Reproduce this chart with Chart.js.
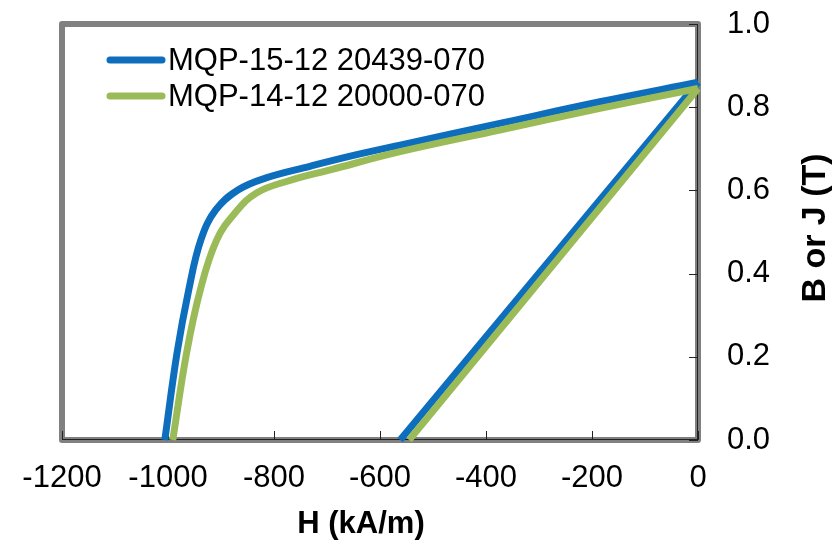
<!DOCTYPE html>
<html>
<head>
<meta charset="utf-8">
<script src="https://cdn.jsdelivr.net/npm/chart.js@4/dist/chart.umd.min.js"></script>
<style>
  html, body { margin: 0; padding: 0; background: #fff; }
  #wrap { width: 833px; height: 543px; }
</style>
</head>
<body>
<div id="wrap"><canvas id="c" width="833" height="543"></canvas></div>
<script>
// ---- Data ----
const seriesNames = ['MQP-15-12 20439-070', 'MQP-14-12 20000-070'];
const seriesColors = ['#0E6EBE', '#9BBB59'];

// MQP-15-12: intrinsic J curve (knee) and normal B line
const blueJH = [-1006, -983, -961, -938, -910, -868, -815, -732, -650, -562, -374, -185, 0];
const blueJB = [0.000, 0.209, 0.360, 0.481, 0.553, 0.601, 0.630, 0.658, 0.684, 0.709, 0.761, 0.813, 0.860];
const blueBH = [-562, -189, 0];
const blueBB = [0.000, 0.571, 0.860];

// MQP-14-12
const greenJH = [-991, -965, -939, -908, -872, -833, -775, -692, -562, -374, -185, 0];
const greenJB = [0.000, 0.209, 0.361, 0.481, 0.548, 0.594, 0.622, 0.650, 0.693, 0.745, 0.797, 0.845];
const greenBH = [-545, -172, 0];
const greenBB = [0.000, 0.578, 0.845];

const xTicks = [-1200, -1000, -800, -600, -400, -200, 0];
const yTicks = [0.0, 0.2, 0.4, 0.6, 0.8, 1.0];
const xTitle = 'H (kA/m)';
const yTitle = 'B or J (T)';

const FONT = '"Liberation Sans", Arial, sans-serif';

function pts(h, b) { return h.map((v, i) => ({ x: v, y: b[i] })); }

const decor = {
  id: 'decor',
  beforeDatasetsDraw(chart) {
    const { ctx, chartArea: a, scales } = chart;
    ctx.save();
    ctx.strokeStyle = '#808080';
    ctx.lineWidth = 6;
    ctx.lineJoin = 'round';
    ctx.strokeRect(a.left, a.top, a.right - a.left, a.bottom - a.top);
    ctx.strokeStyle = '#222';
    ctx.lineWidth = 1;
    ctx.beginPath();
    ctx.moveTo(a.left, a.bottom - 0.5); ctx.lineTo(a.right, a.bottom - 0.5);
    ctx.moveTo(a.right - 0.5, a.top); ctx.lineTo(a.right - 0.5, a.bottom);
    xTicks.forEach(v => {
      const x = Math.round(scales.x.getPixelForValue(v)) + 0.5;
      ctx.moveTo(x, a.bottom); ctx.lineTo(x, a.bottom - 9);
    });
    yTicks.forEach(v => {
      const y = Math.round(scales.y.getPixelForValue(v)) + 0.5;
      ctx.moveTo(a.right, y); ctx.lineTo(a.right - 9, y);
    });
    ctx.stroke();
    ctx.restore();
  },
  afterDraw(chart) {
    const { ctx } = chart;
    ctx.save();
    chart.data.datasets.filter(ds => ds.inLegend).forEach((ds, i) => {
      const y = 60 + i * 36;
      ctx.strokeStyle = ds.borderColor;
      ctx.lineWidth = 7;
      ctx.lineCap = 'round';
      ctx.beginPath();
      ctx.moveTo(110, y); ctx.lineTo(162, y);
      ctx.stroke();
      ctx.fillStyle = '#000';
      ctx.font = '31px ' + FONT;
      ctx.textBaseline = 'middle';
      ctx.textAlign = 'left';
      ctx.fillText(ds.label, 168, y + 1);
    });
    ctx.fillStyle = '#000';
    ctx.font = 'bold 31px ' + FONT;
    ctx.textAlign = 'center';
    ctx.textBaseline = 'middle';
    ctx.fillText(xTitle, 361, 524);
    ctx.font = 'bold 34px ' + FONT;
    ctx.translate(816, 228);
    ctx.rotate(-Math.PI / 2);
    ctx.fillText(yTitle, 0, 0);
    ctx.restore();
  }
};

const common = {
  borderWidth: 7, pointRadius: 0, fill: false, clip: false,
  borderJoinStyle: 'round', borderCapStyle: 'butt'
};

new Chart(document.getElementById('c'), {
  type: 'line',
  data: {
    datasets: [
      Object.assign({ label: seriesNames[0], inLegend: true, data: pts(blueJH, blueJB), borderColor: seriesColors[0], order: 3, tension: 0.4 }, common),
      Object.assign({ label: seriesNames[0] + ' B', inLegend: false, data: pts(blueBH, blueBB), borderColor: seriesColors[0], order: 2, tension: 0 }, common),
      Object.assign({ label: seriesNames[1], inLegend: true, data: pts(greenJH, greenJB), borderColor: seriesColors[1], order: 1, tension: 0.4 }, common),
      Object.assign({ label: seriesNames[1] + ' B', inLegend: false, data: pts(greenBH, greenBB), borderColor: seriesColors[1], order: 0, tension: 0 }, common)
    ]
  },
  options: {
    responsive: false,
    animation: false,
    events: [],
    layout: { padding: { left: 62, top: 24, right: 0, bottom: 0 } },
    plugins: { legend: { display: false }, tooltip: { enabled: false } },
    scales: {
      x: {
        type: 'linear', min: -1200, max: 0,
        grid: { display: false, drawTicks: false },
        border: { display: false },
        afterBuildTicks: s => { s.ticks = xTicks.map(v => ({ value: v })); },
        afterFit: s => { s.height = 103; s.paddingLeft = 0; s.paddingRight = 0; },
        ticks: { color: '#000', font: { family: FONT, size: 31 }, padding: 20, maxRotation: 0, autoSkip: false,
                 callback: v => String(v) }
      },
      y: {
        type: 'linear', position: 'right', min: 0, max: 1,
        grid: { display: false, drawTicks: false },
        border: { display: false },
        afterBuildTicks: s => { s.ticks = yTicks.map(v => ({ value: v })); },
        afterFit: s => { s.width = 135; s.paddingTop = 0; s.paddingBottom = 0; },
        ticks: { color: '#000', font: { family: FONT, size: 31 }, padding: 29, autoSkip: false,
                 callback: v => Number(v).toFixed(1) }
      }
    }
  },
  plugins: [decor]
});
</script>
</body>
</html>
